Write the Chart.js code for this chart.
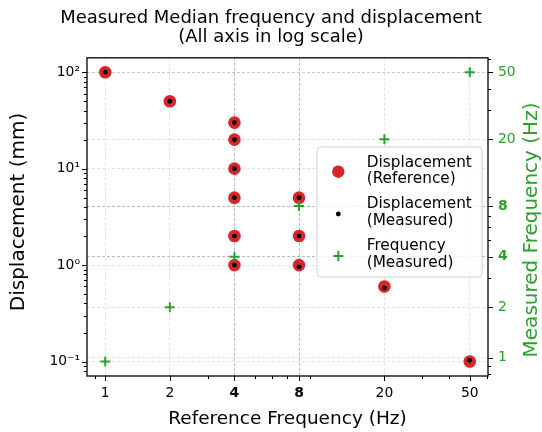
<!doctype html>
<html lang="en">
<head>
<meta charset="utf-8">
<title>Measured Median frequency and displacement</title>
<script src="https://cdn.jsdelivr.net/npm/chart.js@4.4.1/dist/chart.umd.min.js"></script>
<style>
    html, body { margin: 0; padding: 0; background: #fff; }
</style>
</head>
<body>
<canvas id="chart" width="542" height="432"></canvas>

<script>
    // data
    var refFreq  = [1, 2, 4, 4, 4, 4, 4, 4, 8, 8, 8, 20, 50];
    var refDisp  = [100, 50, 30, 20, 10, 5, 2, 1, 5, 2, 1, 0.6, 0.1];
    var measDisp = [100, 50, 30, 20, 10, 5, 2, 1, 5, 2, 0.96, 0.58, 0.103];
    var freqX    = [1, 2, 4, 8, 20, 50];
    var measFreq = [0.95, 2, 4, 8, 20, 50];

    var xTicks = [1, 2, 4, 8, 20, 50];
    var leftTicks = [0.1, 1, 10, 100];
    var leftTickLabels = ['10⁻¹', '10⁰', '10¹', '10²'];
    var rightTicks = [1, 2, 4, 8, 20, 50];
    var boldTicks = [4, 8];

    var FONT = "'DejaVu Sans', sans-serif";
    var RED = '#d62728', GREEN = '#2ca02c';
    var LIGHT = 'rgba(0,0,0,0.11)', DARK = 'rgba(0,0,0,0.28)';

    function pts(xs, ys) {
        return xs.map(function(x, i) { return {x: x, y: ys[i]}; });
    }

    function setTicks(list) {
        return function(scale) {
            scale.ticks = list.map(function(v) { return {value: v}; });
        };
    }

    function tickFont(ctx) {
        var bold = ctx.tick && boldTicks.indexOf(ctx.tick.value) >= 0;
        return {family: FONT, size: 13.9, weight: bold ? 'bold' : 'normal'};
    }

    function minorTicks(lo, hi, majors) {
        var out = [];
        for (var e = Math.floor(Math.log10(lo)); e <= Math.ceil(Math.log10(hi)); e++) {
            for (var m = 2; m <= 9; m++) {
                var v = +(m * Math.pow(10, e)).toPrecision(6);
                if (v >= lo && v <= hi && majors.indexOf(v) < 0) out.push(v);
            }
        }
        return out;
    }

    // ticks, frame, y titles and legend, drawn over the chart
    var decorations = {
        id: 'decorations',
        afterDraw: function(chart) {
            var c = chart.ctx, a = chart.chartArea;
            var sx = chart.scales.x, sy = chart.scales.y, sy2 = chart.scales.y2;
            c.save();
            c.strokeStyle = '#000';
            c.lineWidth = 1;

            function xt(vals, len) {
                vals.forEach(function(v) {
                    var p = Math.round(sx.getPixelForValue(v)) + 0.5;
                    c.beginPath(); c.moveTo(p, a.bottom); c.lineTo(p, a.bottom + len); c.stroke();
                });
            }
            function yt(scale, vals, len, side) {
                vals.forEach(function(v) {
                    var p = Math.round(scale.getPixelForValue(v)) + 0.5;
                    var x0 = side < 0 ? a.left : a.right;
                    c.beginPath(); c.moveTo(x0, p); c.lineTo(x0 + side * len, p); c.stroke();
                });
            }
            xt(xTicks, 5);
            xt(minorTicks(sx.min, sx.max, xTicks), 3);
            yt(sy, leftTicks, 5, -1);
            yt(sy, minorTicks(sy.min, sy.max, leftTicks), 3, -1);
            yt(sy2, rightTicks, 5, 1);
            yt(sy2, minorTicks(sy2.min, sy2.max, rightTicks), 3, 1);

            c.lineWidth = 1.3;
            c.strokeRect(a.left, a.top, a.right - a.left, a.bottom - a.top);

            // axis titles on y
            c.font = '20px ' + FONT;
            c.textAlign = 'center';
            c.textBaseline = 'alphabetic';
            c.fillStyle = '#000';
            c.save(); c.translate(24, 212); c.rotate(-Math.PI / 2);
            c.fillText('Displacement (mm)', 0, 0); c.restore();
            c.fillStyle = GREEN;
            c.save(); c.translate(537, 230); c.rotate(-Math.PI / 2);
            c.fillText('Measured Frequency (Hz)', 0, 0); c.restore();

            // legend
            var bx = 317, by = 147, bw = 165, bh = 130;
            c.beginPath();
            c.roundRect(bx, by, bw, bh, 4);
            c.fillStyle = 'rgba(255,255,255,0.8)';
            c.fill();
            c.strokeStyle = '#d0d0d0';
            c.lineWidth = 1;
            c.stroke();

            var ds = chart.data.datasets;
            var mx = 338.3;
            c.fillStyle = ds[0].backgroundColor;
            c.beginPath(); c.arc(mx, 171.7, 6.2, 0, Math.PI * 2); c.fill();
            c.fillStyle = ds[1].backgroundColor;
            c.beginPath(); c.arc(mx, 214, 2.4, 0, Math.PI * 2); c.fill();
            c.strokeStyle = ds[2].borderColor;
            c.lineWidth = 2;
            c.beginPath();
            c.moveTo(mx - 5, 256); c.lineTo(mx + 5, 256);
            c.moveTo(mx, 251); c.lineTo(mx, 261);
            c.stroke();

            c.font = '15.3px ' + FONT;
            c.textAlign = 'left';
            c.fillStyle = '#000';
            var lines = [['Displacement', 166.7], ['(Reference)', 183.3],
                         ['Displacement', 208.3], ['(Measured)', 225],
                         ['Frequency', 250], ['(Measured)', 266.7]];
            lines.forEach(function(l) { c.fillText(l[0], 366.7, l[1]); });
            c.restore();
        }
    };

    var ctx = document.getElementById('chart').getContext('2d');
    var chart = new Chart(ctx, {
        type: 'scatter',
        data: {
            datasets: [{
                label: 'Displacement (Reference)',
                data: pts(refFreq, refDisp),
                yAxisID: 'y',
                backgroundColor: RED,
                borderWidth: 0,
                pointRadius: 6.3,
                order: 3
            }, {
                label: 'Displacement (Measured)',
                data: pts(refFreq, measDisp),
                yAxisID: 'y',
                backgroundColor: '#000',
                borderWidth: 0,
                pointRadius: 2.4,
                order: 2
            }, {
                label: 'Frequency (Measured)',
                data: pts(freqX, measFreq),
                yAxisID: 'y2',
                pointStyle: 'cross',
                borderColor: GREEN,
                backgroundColor: GREEN,
                borderWidth: 2,
                pointRadius: 5,
                order: 1
            }]
        },
        options: {
            responsive: false,
            animation: false,
            events: [],
            layout: {padding: 0},
            plugins: {
                legend: {display: false},
                tooltip: {enabled: false},
                title: {
                    display: true,
                    text: ['Measured Median frequency and displacement', '(All axis in log scale)'],
                    color: '#000',
                    font: {family: FONT, size: 18, weight: 'normal', lineHeight: 1.05},
                    padding: {top: 9, bottom: 11}
                }
            },
            scales: {
                x: {
                    type: 'logarithmic',
                    position: 'bottom',
                    min: 0.822,
                    max: 60.8,
                    afterBuildTicks: setTicks(xTicks),
                    afterFit: function(s) { s.height = 56; s.paddingLeft = 0; s.paddingRight = 0; },
                    ticks: {
                        autoSkip: false,
                        maxRotation: 0,
                        padding: 9,
                        color: '#000',
                        font: tickFont,
                        callback: function(v) { return String(v); }
                    },
                    grid: {
                        drawTicks: false,
                        lineWidth: 1,
                        color: function(c) { return c.tick && boldTicks.indexOf(c.tick.value) >= 0 ? DARK : LIGHT; }
                    },
                    border: {display: false, dash: [3, 2]},
                    title: {
                        display: true,
                        text: 'Reference Frequency (Hz)',
                        color: '#000',
                        font: {family: FONT, size: 18.5, weight: 'normal'},
                        padding: {top: 0, bottom: 2}
                    }
                },
                y: {
                    type: 'logarithmic',
                    position: 'left',
                    min: 0.0708,
                    max: 141,
                    afterBuildTicks: setTicks(leftTicks),
                    afterFit: function(s) { s.width = 87; s.paddingTop = 0; s.paddingBottom = 0; },
                    ticks: {
                        autoSkip: false,
                        padding: 7,
                        color: '#000',
                        font: {family: FONT, size: 13.9},
                        callback: function(v) {
                            var i = leftTicks.indexOf(v);
                            return i >= 0 ? leftTickLabels[i] : '';
                        }
                    },
                    grid: {drawTicks: false, lineWidth: 1, color: LIGHT},
                    border: {display: false, dash: [3, 2]}
                },
                y2: {
                    type: 'logarithmic',
                    position: 'right',
                    min: 0.78,
                    max: 61,
                    afterBuildTicks: setTicks(rightTicks),
                    afterFit: function(s) { s.width = 54; s.paddingTop = 0; s.paddingBottom = 0; },
                    ticks: {
                        autoSkip: false,
                        padding: 10,
                        color: GREEN,
                        font: tickFont,
                        callback: function(v) { return String(v); }
                    },
                    grid: {
                        drawTicks: false,
                        lineWidth: 1,
                        color: function(c) { return c.tick && boldTicks.indexOf(c.tick.value) >= 0 ? DARK : LIGHT; }
                    },
                    border: {display: false, dash: [3, 2]}
                }
            }
        },
        plugins: [decorations]
    });
</script>
</body>
</html>
